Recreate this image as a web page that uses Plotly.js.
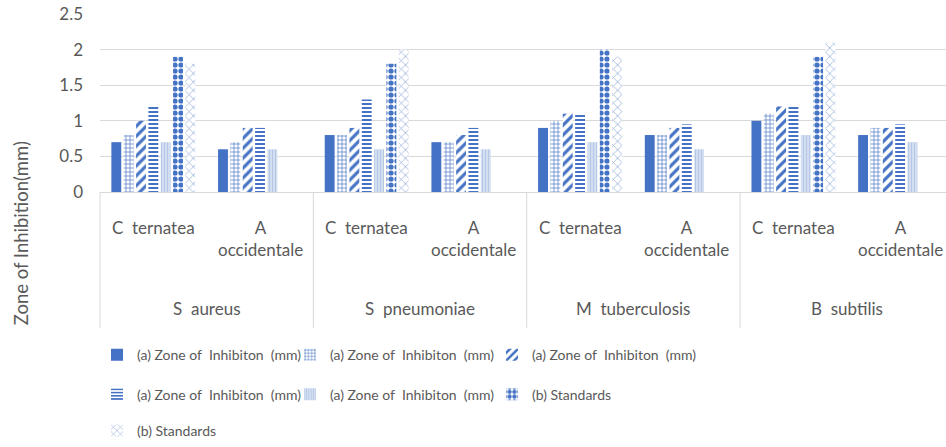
<!DOCTYPE html>
<html>
<head>
<meta charset="utf-8">
<script src="https://cdn.plot.ly/plotly-3.0.1.min.js"></script>
<style>html,body{margin:0;padding:0;background:#fff;}#chart{width:946px;height:447px;}</style>
</head>
<body>
<div id="chart"></div>
<script>
// ---- data ----
const groups = ['S  aureus', 'S  pneumoniae', 'M  tuberculosis', 'B  subtilis'];
const plants = ['C  ternatea', 'A  occidentale'];
const plantLabels = ['C  ternatea', 'A<br>occidentale'];
const seriesNames = [
  '(a) Zone of  Inhibiton  (mm)',
  '(a) Zone of  Inhibiton  (mm)',
  '(a) Zone of  Inhibiton  (mm)',
  '(a) Zone of  Inhibiton  (mm)',
  '(a) Zone of  Inhibiton  (mm)',
  '(b) Standards',
  '(b) Standards'
];
// order: S aureus (C, A), S pneumoniae (C, A), M tuberculosis (C, A), B subtilis (C, A)
const s1 = [0.7, 0.6, 0.8, 0.7, 0.9, 0.8, 1.0, 0.8];
const s2 = [0.8, 0.7, 0.8, 0.7, 1.0, 0.8, 1.1, 0.9];
const s3 = [1.0, 0.9, 0.9, 0.8, 1.1, 0.9, 1.2, 0.9];
const s4 = [1.2, 0.9, 1.3, 0.9, 1.1, 0.95, 1.2, 0.95];
const s5 = [0.7, 0.6, 0.6, 0.6, 0.7, 0.6, 0.8, 0.7];
const s6 = [1.9, null, 1.8, null, 2.0, null, 1.9, null];
const s7 = [1.8, null, 2.0, null, 1.9, null, 2.1, null];
const yTicks = [0, 0.5, 1, 1.5, 2, 2.5];
const yTickText = ['0', '0.5', '1', '1.5', '2', '2.5'];

// ---- build ----
const xGroup = [], xPlant = [];
groups.forEach(g => plants.forEach(p => { xGroup.push(g); xPlant.push(p); }));
const nCat = xGroup.length;

const DARK = '#4472c4';
const MID = '#5b84c9';
const LIGHT = '#b4c7e7';
const styles = [
  {color: DARK, pattern: {shape: ''}},
  {color: MID, pattern: {shape: '+', fgcolor: MID, bgcolor: '#ffffff', size: 4, solidity: 0.35, fillmode: 'replace'}},
  {color: DARK, pattern: {shape: '/', fgcolor: DARK, bgcolor: '#ffffff', size: 7, solidity: 0.45, fillmode: 'replace'}},
  {color: DARK, pattern: {shape: '-', fgcolor: DARK, bgcolor: '#ffffff', size: 4, solidity: 0.5, fillmode: 'replace'}},
  {color: LIGHT, pattern: {shape: '|', fgcolor: LIGHT, bgcolor: '#dde6f3', size: 3, solidity: 0.5, fillmode: 'replace'}},
  {color: DARK, pattern: {shape: '.', fgcolor: DARK, bgcolor: '#ffffff', size: 6, solidity: 0.6, fillmode: 'replace'}},
  {color: '#9db4dc', pattern: {shape: 'x', fgcolor: '#9db4dc', bgcolor: '#ffffff', size: 6, solidity: 0.25, fillmode: 'replace'}}
];
const values = [s1, s2, s3, s4, s5, s6, s7];
const legendOf = ['legend', 'legend', 'legend', 'legend2', 'legend2', 'legend2', 'legend3'];
const legendWidths = [148, 157, undefined, 148, 157, undefined, undefined];

const traces = values.map((v, i) => {
  const t = {
    type: 'bar',
    name: seriesNames[i],
    x: [xGroup, xPlant],
    y: v,
    marker: {color: styles[i].color, pattern: styles[i].pattern, line: {width: 0}},
    legend: legendOf[i],
    hoverinfo: 'x+y+name'
  };
  if (legendWidths[i] !== undefined) t.legendwidth = legendWidths[i];
  return t;
});

const xRange = [-0.5, 7.43];
const toPaper = i => (i - xRange[0]) / (xRange[1] - xRange[0]);
const plotTop = 14, plotBottom = 195;
const plotH = plotBottom - plotTop;
const pyToPaper = py => (plotBottom - py) / plotH;

const FONT = 'Lato, "Open Sans", sans-serif';
const GREY = '#595959';

const annotations = [];
for (let i = 0; i < nCat; i++) {
  annotations.push({
    xref: 'paper', yref: 'paper', x: toPaper(i), y: pyToPaper(218),
    xanchor: 'center', yanchor: 'top', showarrow: false,
    text: plantLabels[i % plants.length], align: 'center',
    font: {family: FONT, size: 17, color: GREY}
  });
}
groups.forEach((g, gi) => {
  annotations.push({
    xref: 'paper', yref: 'paper', x: toPaper(gi * plants.length + (plants.length - 1) / 2), y: pyToPaper(313),
    xanchor: 'center', yanchor: 'middle', showarrow: false, text: g,
    font: {family: FONT, size: 17, color: GREY}
  });
});
annotations.push({
  xref: 'paper', yref: 'paper', x: -100 / 846, xshift: 21, y: pyToPaper(237),
  xanchor: 'center', yanchor: 'middle', showarrow: false, textangle: -90,
  text: 'Zone of Inhibition(mm)', font: {family: FONT, size: 18.5, color: GREY}
});

const shapes = [];
for (let gi = 0; gi < groups.length; gi++) {
  const xi = gi * plants.length - 0.5;
  shapes.push({
    type: 'line', xref: 'paper', yref: 'paper',
    x0: toPaper(xi), x1: toPaper(xi), y0: pyToPaper(195), y1: pyToPaper(333),
    line: {color: '#d9d9d9', width: 1}
  });
}

const legendBase = {
  orientation: 'h', xanchor: 'left', yanchor: 'middle',
  font: {family: FONT, size: 14, color: GREY},
  bgcolor: 'rgba(0,0,0,0)', itemwidth: 30, traceorder: 'normal'
};
const legendX = -3 / 846;

const layout = {
  width: 946, height: 447,
  margin: {l: 100, r: 0, t: plotTop, b: 447 - plotBottom, pad: 0},
  paper_bgcolor: '#ffffff', plot_bgcolor: '#ffffff',
  barmode: 'group', bargap: 0.19, bargroupgap: 0.2,
  font: {family: FONT, color: GREY},
  xaxis: {type: 'multicategory', range: xRange, showticklabels: false, showgrid: false,
          showline: false, zeroline: false, ticks: '', showdividers: false},
  yaxis: {range: [0, 2.5], tickvals: yTicks, ticktext: yTickText, showgrid: true,
          gridcolor: '#d9d9d9', gridwidth: 1, zeroline: true, zerolinecolor: '#d9d9d9',
          zerolinewidth: 1, showline: false, ticks: '', ticklabelstandoff: 16,
          tickfont: {family: FONT, size: 17, color: GREY}},
  showlegend: true,
  legend: Object.assign({}, legendBase, {x: legendX, y: pyToPaper(361)}),
  legend2: Object.assign({}, legendBase, {x: legendX, y: pyToPaper(401)}),
  legend3: Object.assign({}, legendBase, {x: legendX, y: pyToPaper(439)}),
  annotations: annotations,
  shapes: shapes
};

Plotly.newPlot('chart', traces, layout, {displayModeBar: false, staticPlot: true});
</script>
</body>
</html>
